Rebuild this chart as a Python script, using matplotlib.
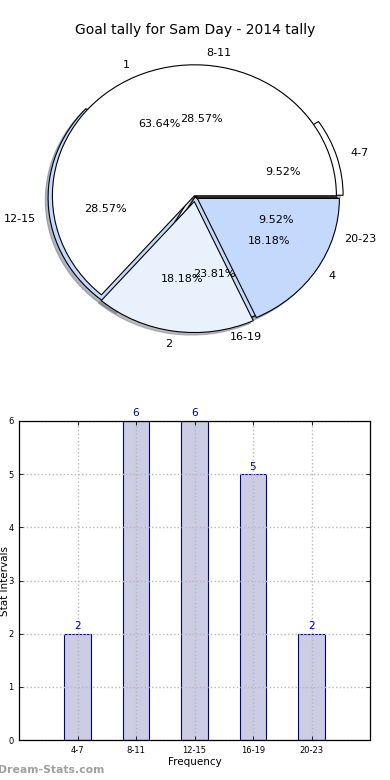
import matplotlib
matplotlib.use("Agg")
import matplotlib.pyplot as plt
import numpy as np

# ---- data ----
title = "Goal tally for Sam Day - 2014 tally"
intervals = ["4-7", "8-11", "12-15", "16-19", "20-23"]
frequency = [2, 6, 6, 5, 2]
goal_labels = ["1", "2", "4"]
goal_counts = [7, 2, 2]

# ---- styles ----
colors_a = ["white", "white", "#c5d9fd", "#c5d9fd", "#5b6450"]
explode_a = [0.045, 0.0, 0.035, 0.0, 0.0]
colors_b = ["white", "#e9f1fd", "#c5d9fd"]
explode_b = [0.01, 0.035, 0.02]
shadow_style = {"ox": -0.014, "oy": -0.014, "shade": 0.5}

fig = plt.figure(figsize=(3.9, 7.8), dpi=100)
fig.patch.set_facecolor("white")

fig.text(0.5, 1 - 30 / 780, title, ha="center", va="center", fontsize=10)

# pie axes (elliptical, as in the reference)
rx, ry, cx, cy = 142.0, 131.0, 195.0, 197.0  # pixels
w_px, h_px = 2.5 * rx, 2.5 * ry
ax1 = fig.add_axes([(cx - w_px / 2) / 390, (780 - cy - h_px / 2) / 780,
                    w_px / 390, h_px / 780])
wp = {"edgecolor": "black", "linewidth": 0.8}
ax1.pie(frequency, labels=intervals, colors=colors_a, explode=explode_a,
        autopct="%1.2f%%", shadow=shadow_style, startangle=0, wedgeprops=wp,
        textprops={"fontsize": 8})
ax1.pie(goal_counts, labels=goal_labels, colors=colors_b, explode=explode_b,
        autopct="%1.2f%%", shadow=shadow_style, startangle=0, wedgeprops=wp,
        textprops={"fontsize": 8})
ax1.set_aspect("auto")
ax1.set_xlim(-1.25, 1.25)
ax1.set_ylim(-1.25, 1.25)
ax1.axis("off")

# bar axes
ax2 = fig.add_axes([19 / 390, 40 / 780, 351 / 390, 319 / 780])
x = np.arange(1, len(intervals) + 1)
ax2.bar(x, frequency, width=0.45, color="#cccce4", edgecolor="#00008b",
        linewidth=0.8, zorder=1)
for xi, v in zip(x, frequency):
    ax2.text(xi, v + 0.05, str(v), ha="center", va="bottom", fontsize=7.5,
             color="#00008b")
ax2.set_xlim(0, 6)
ax2.set_ylim(0, 6)
ax2.set_xticks(x)
ax2.set_xticklabels(intervals)
ax2.set_yticks(range(0, 7))
ax2.tick_params(direction="in", top=True, right=True, labelsize=6, length=3,
                width=0.6, pad=4)
ax2.grid(True, linestyle=":", color="#b8b8b8", linewidth=1)
ax2.set_axisbelow(False)
for s in ax2.spines.values():
    s.set_linewidth(0.9)
    s.set_zorder(3)
ax2.set_xlabel("Frequency", fontsize=7.5, labelpad=2)
ax2.set_ylabel("Stat Intervals", fontsize=7.5)
ax2.yaxis.set_label_coords(-0.027, 0.5)

fig.text(-0.004, 10 / 780, "Dream-Stats.com", color="#a0a0a0", fontsize=7.8,
         fontweight="bold", ha="left", va="center")

fig.savefig("out.png", dpi=100)
